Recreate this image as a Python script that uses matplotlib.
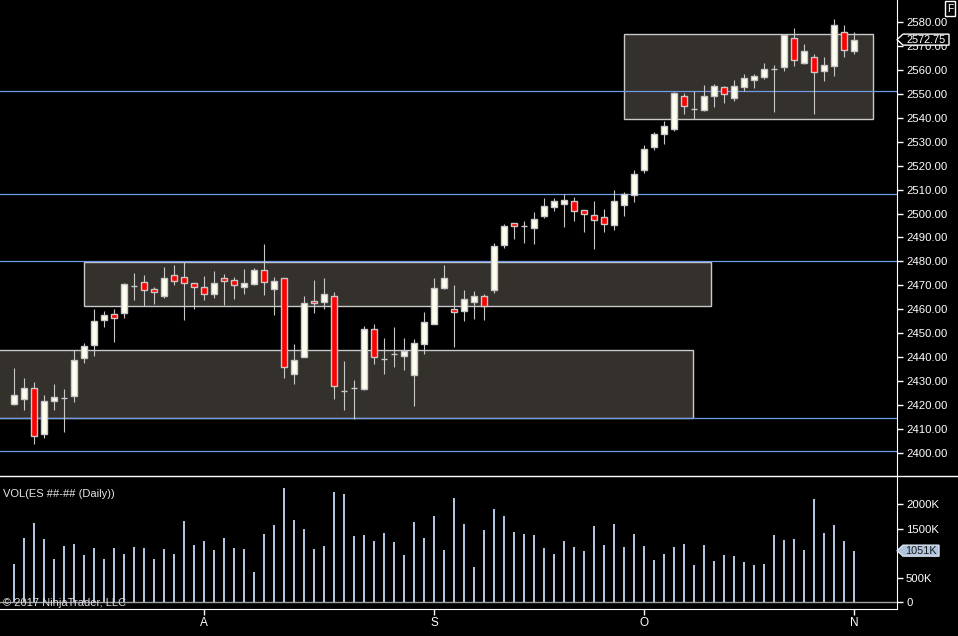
import matplotlib
matplotlib.use('Agg')
import matplotlib.pyplot as plt
import matplotlib.patches as patches
from matplotlib.lines import Line2D
from matplotlib.transforms import IdentityTransform
import numpy as np

plt.rcParams['font.family'] = ['Liberation Sans', 'DejaVu Sans']

# ---------- daily ES bars ----------
opens = [2420.4, 2422.4, 2427.0, 2407.9, 2421.7, 2423.0, 2423.8, 2439.7, 2445.1, 2455.6,
         2457.9, 2458.5, 2469.7, 2471.3, 2468.3, 2465.6, 2474.3, 2473.4, 2471.0, 2469.2,
         2466.4, 2473.0, 2472.2, 2469.4, 2470.6, 2476.3, 2468.5, 2473.0, 2433.0, 2440.1,
         2463.4, 2463.1, 2465.5, 2425.6, 2427.1, 2426.7, 2451.5, 2439.2, 2441.1, 2440.5,
         2432.6, 2445.2, 2453.9, 2469.0, 2459.9, 2459.1, 2462.8, 2465.3, 2468.1, 2487.0,
         2496.0, 2494.8, 2494.1, 2499.1, 2502.9, 2504.1, 2505.2, 2501.5, 2499.4, 2498.5,
         2495.3, 2503.7, 2507.9, 2518.3, 2527.7, 2533.4, 2535.5, 2549.0, 2543.7, 2543.4,
         2549.0, 2552.8, 2548.5, 2552.8, 2555.7, 2557.0, 2560.6, 2561.4, 2573.3, 2562.8,
         2565.4, 2559.8, 2561.9, 2575.8, 2568.1]
highs = [2435.3, 2431.2, 2429.5, 2424.0, 2428.6, 2426.6, 2442.9, 2445.8, 2460.0, 2459.2,
         2460.0, 2470.9, 2475.1, 2474.3, 2469.2, 2477.6, 2478.4, 2479.7, 2471.0, 2473.8,
         2475.9, 2474.7, 2473.4, 2476.8, 2477.2, 2487.2, 2473.4, 2473.0, 2445.4, 2465.5,
         2472.2, 2473.0, 2467.1, 2438.3, 2430.3, 2452.9, 2453.7, 2447.9, 2452.5, 2447.9,
         2447.5, 2458.8, 2473.0, 2478.4, 2470.1, 2468.0, 2467.6, 2466.3, 2487.6, 2495.6,
         2496.0, 2496.9, 2500.6, 2506.5, 2506.5, 2508.2, 2506.9, 2501.5, 2505.2, 2501.9,
         2509.8, 2509.0, 2518.2, 2528.7, 2534.1, 2538.7, 2550.8, 2550.4, 2551.3, 2553.8,
         2554.2, 2553.4, 2555.9, 2558.4, 2558.4, 2563.0, 2562.1, 2574.7, 2577.6, 2570.9,
         2566.7, 2565.5, 2581.4, 2578.9, 2576.0]
lows = [2419.9, 2417.8, 2403.5, 2406.1, 2417.8, 2408.6, 2421.1, 2437.4, 2440.4, 2452.5,
        2446.2, 2456.3, 2463.8, 2461.3, 2462.1, 2464.6, 2470.1, 2455.4, 2460.0, 2463.8,
        2464.6, 2461.7, 2464.2, 2466.3, 2470.2, 2465.9, 2457.5, 2431.2, 2428.6, 2440.1,
        2458.4, 2460.0, 2422.4, 2417.8, 2414.0, 2426.3, 2437.2, 2433.0, 2435.9, 2434.6,
        2419.6, 2441.3, 2453.6, 2468.5, 2444.3, 2455.2, 2456.0, 2455.6, 2466.8, 2485.6,
        2489.3, 2487.7, 2487.2, 2498.1, 2501.0, 2494.4, 2496.9, 2492.3, 2485.1, 2492.3,
        2493.1, 2499.0, 2504.8, 2516.9, 2526.6, 2529.1, 2534.6, 2541.8, 2539.7, 2543.0,
        2544.7, 2546.4, 2547.2, 2551.3, 2552.5, 2556.4, 2542.6, 2559.6, 2561.9, 2562.7,
        2541.8, 2555.6, 2557.7, 2565.6, 2566.9]
closes = [2424.0, 2427.0, 2407.0, 2421.5, 2423.2, 2423.0, 2438.7, 2444.5, 2455.0, 2457.5,
          2456.4, 2470.5, 2469.7, 2468.1, 2467.0, 2473.0, 2471.9, 2470.8, 2469.2, 2466.4,
          2470.9, 2471.9, 2470.2, 2470.9, 2476.3, 2471.5, 2471.7, 2435.9, 2438.7, 2462.5,
          2462.4, 2466.3, 2428.0, 2425.6, 2427.1, 2451.5, 2440.1, 2439.2, 2441.1, 2442.5,
          2445.7, 2454.4, 2468.7, 2472.9, 2458.6, 2464.1, 2465.3, 2461.4, 2486.4, 2494.8,
          2494.9, 2494.8, 2497.7, 2503.1, 2505.2, 2505.6, 2501.2, 2499.9, 2497.4, 2495.7,
          2505.2, 2508.2, 2516.5, 2527.0, 2533.2, 2536.6, 2550.4, 2545.1, 2543.7, 2549.0,
          2553.2, 2549.9, 2553.2, 2556.6, 2557.4, 2560.3, 2560.6, 2574.7, 2564.1, 2567.9,
          2559.1, 2562.0, 2578.7, 2568.6, 2572.75]
volumes_k = [774, 1308, 1622, 1287, 876, 1143, 1184, 958, 1102, 876,
             1102, 979, 1123, 1102, 876, 1082, 979, 1656, 1164, 1246,
             1061, 1308, 1102, 1082, 610, 1390, 1575, 2334, 1677, 1492,
             1082, 1143, 2252, 2211, 1349, 1369, 1246, 1410, 1225, 958,
             1636, 1308, 1759, 1061, 2129, 1595, 712, 1472, 1903, 1759,
             1431, 1390, 1369, 1102, 979, 1246, 1123, 1041, 1554, 1164,
             1595, 1123, 1390, 1143, 856, 979, 1123, 1184, 753, 1164,
             835, 958, 938, 815, 753, 774, 1369, 1267, 1287, 1061,
             2108, 1410, 1575, 1246, 1051]

month_ticks = [19, 42, 63, 84]
month_labels = ['A', 'S', 'O', 'N']

# drawn zones: (first bar, last bar, low, high)
zones = [(-3.0, 67.9, 2414.25, 2442.9),
         (7.0, 69.7, 2461.2, 2479.6),
         (61.0, 85.9, 2539.4, 2574.9)]
level_lines = [2551.25, 2508.0, 2480.0, 2414.5, 2400.75]

#---------- colours ----------
UP = '#fffff0'
DOWN = '#ff0000'
OUTLINE = '#c8c8c8'
ZONE_FILL = '#34302c'
LEVEL = '#6e9ae6'
VOLBAR = '#b0c4de'

W, H = 958, 636
fig = plt.figure(figsize=(W / 100, H / 100), dpi=100, facecolor='black')


def px_axes(left, top, right, bottom):
    '''axes placed by pixel edges (top-left origin)'''
    a = fig.add_axes([left / W, 1 - bottom / H, (right - left) / W, (bottom - top) / H])
    a.set_facecolor('black')
    return a


ax = px_axes(0, 0, 897, 476)
axv = px_axes(0, 476, 897, 609.3)

xlim = (-1.4, 88.3)
ax.set_xlim(*xlim)
axv.set_xlim(*xlim)
ax.set_ylim(2390.17, 2589.33)
axv.set_ylim(-149, 2579)

#-- zones and level lines
for x0, x1, lo, hi in zones:
    ax.add_patch(patches.Rectangle((x0, lo), x1 - x0, hi - lo, facecolor=ZONE_FILL,
                                   edgecolor=OUTLINE, lw=1.0, zorder=1))
for lvl in level_lines:
    ax.axhline(lvl, color=LEVEL, lw=0.9, zorder=2)

#-- candles
idx = np.arange(len(closes))
ax.vlines(idx, lows, highs, color=OUTLINE, lw=0.8, zorder=3)
for i in idx:
    o, c = opens[i], closes[i]
    fc = UP if c >= o else DOWN
    ax.add_patch(patches.Rectangle((i - 0.31, min(o, c)), 0.62, abs(c - o), facecolor=fc,
                                   edgecolor=OUTLINE, lw=1.0, zorder=4))

#-- volume
axv.bar(idx, volumes_k, width=0.22, color=VOLBAR, zorder=3)
axv.axhline(0, color='#a0a0a0', lw=1.0, zorder=2)

#-- axes styling
for a in (ax, axv):
    for s in ('top', 'left'):
        a.spines[s].set_visible(False)
    a.spines['right'].set_color('white')
    a.yaxis.tick_right()
    a.tick_params(axis='y', colors='white', direction='out', length=4.5, width=1,
                  labelsize=8.2, pad=2)
ax.spines['bottom'].set_visible(False)
ax.set_xticks([])
ax.set_yticks(np.arange(2400, 2581, 10))
ax.set_yticklabels(['%.2f' % v for v in np.arange(2400, 2581, 10)])

axv.spines['bottom'].set_color('white')
axv.set_yticks([0, 500, 1500, 2000])
axv.set_yticklabels(['0', '500K', '1500K', '2000K'])
axv.set_xticks(month_ticks)
axv.set_xticklabels(month_labels)
axv.tick_params(axis='x', colors='white', direction='out', length=4.5, width=1,
                labelsize=8.5, pad=1)

# panel separator
fig.add_artist(Line2D([0, 1], [1 - 476 / H] * 2, transform=fig.transFigure,
                      color='white', lw=1))


def tag(axis, value, text, fc, ec, tc, box_w):
    '''left pointing price tag on the right axis'''
    x0, y = axis.transData.transform((axis.get_xlim()[1], value))
    pts = [(x0, y), (x0 + 6, y + 5.5), (x0 + 6 + box_w, y + 5.5),
           (x0 + 6 + box_w, y - 5.5), (x0 + 6, y - 5.5)]
    fig.add_artist(patches.Polygon(pts, closed=True, transform=IdentityTransform(),
                                   facecolor=fc, edgecolor=ec, lw=1, zorder=10))
    fig.text((x0 + 6 + box_w / 2) / W, y / H, text, ha='center', va='center', color=tc,
             fontsize=7.8, zorder=11)


tag(ax, closes[-1], '%.2f' % closes[-1], 'black', 'white', 'white', 46)
tag(axv, volumes_k[-1], '%dK' % volumes_k[-1], VOLBAR, '#d8e2ee', '#1e1e1e', 36)

#-- texts
fig.text(3 / W, 1 - 494 / H, 'VOL(ES ##-## (Daily))', color='#e6e6e6', fontsize=8,
         va='center', ha='left')
fig.text(3 / W, 1 - 603 / H, '\u00a9 2017 NinjaTrader, LLC', color='#dcdcdc', fontsize=8,
         va='center', ha='left', zorder=12)
fig.text(950 / W, 1 - 8.5 / H, 'F', color='white', fontsize=7.5, ha='center', va='center',
         bbox=dict(boxstyle='square,pad=0.2', fc='black', ec='white', lw=1))

fig.savefig('out.png', dpi=100, facecolor='black')
